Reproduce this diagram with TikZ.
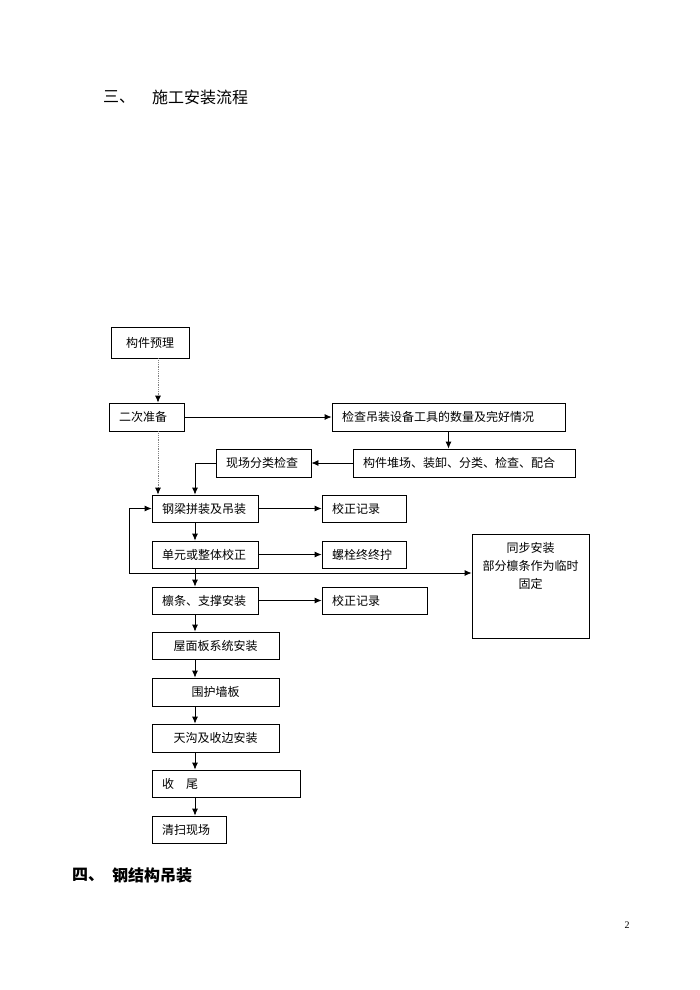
\documentclass[tikz,border=0pt]{standalone}
\usepackage{fontspec}
\setmainfont{Liberation Serif}
\newfontfamily\cjk{Noto Sans CJK SC}
\usepackage{tikz}
\usetikzlibrary{calc,arrows.meta,positioning}

\begin{document}
\begin{tikzpicture}[x=1pt,y=-1pt,>={Latex[length=7pt,width=6pt]}]

\tikzset{flownode/.style={draw,line width=0.8pt,font=\cjk\fontsize{12}{14}\selectfont,inner sep=0pt,minimum height=28pt,align=center},
leftnode/.style={flownode,text width=#1,align=left,inner xsep=10pt},
flow/.style={->,line width=0.8pt},
dotflow/.style={-{Latex[length=7pt,width=6pt,black]},densely dotted,line width=0.8pt,color=gray},
heading/.style={anchor=west,inner sep=0pt,font=\cjk\fontsize{16}{18}\selectfont}}

\useasboundingbox (0,0) rectangle (700,990);

% Headings
\node[heading] (h3num) at (103,97) {三、};
\node[heading] (h3) at (152,97) {施工安装流程};
\node[heading,font=\cjk\bfseries\fontsize{16}{18}\selectfont] (h4num) at (72,875) {四、};
\node[heading,font=\cjk\bfseries\fontsize{16}{18}\selectfont] (h4) at (112,875) {钢结构吊装};
\node[font=\fontsize{10}{12}\selectfont] (page) at (627,925) {2};

% preparation nodes
\node[flownode,minimum width=78pt,minimum height=31pt] (pre) at (150,342.5) {构件预理};
\node[leftnode=55pt] (prep) at (146.5,417) {二次准备};
\node[leftnode=213pt] (check) at (448.5,417) {检查吊装设备工具的数量及完好情况};
\node[leftnode=75pt] (sort) at (263.5,463) {现场分类检查};
\node[leftnode=202pt] (stack) at (464,463) {构件堆场、装卸、分类、检查、配合};

% erection nodes
\node[leftnode=86pt,minimum height=27pt] (beam) at (205,508.5) {钢梁拼装及吊装};
\node[leftnode=64pt,minimum height=27pt] (rec1) at (364,508.5) {校正记录};
\node[leftnode=86pt,minimum height=27pt] (unit) at (205,554.5) {单元或整体校正};
\node[leftnode=64pt,minimum height=27pt] (bolt) at (364,554.5) {螺栓终终拧};
\node[leftnode=86pt,minimum height=27pt] (purlin) at (205,600.5) {檩条、支撑安装};
\node[leftnode=85pt,minimum height=27pt] (rec2) at (374.5,600.5) {校正记录};
\node[flownode,minimum width=117pt,minimum height=104pt] (sync) at (530.5,586) {};
\node[font=\cjk\fontsize{12}{18}\selectfont,align=center,anchor=north,inner sep=0pt] (syncText) at ($(sync.north)+(0,9)$) {同步安装\\部分檩条作为临时\\固定};

% finishing nodes
\node[flownode,minimum width=127pt,minimum height=27pt] (roof) at (215.5,645.5) {屋面板系统安装};
\node[flownode,minimum width=127pt] (wall) at (215.5,692) {围护墙板};
\node[flownode,minimum width=127pt] (gutter) at (215.5,738) {天沟及收边安装};
\node[leftnode=128pt,minimum height=27pt] (finish) at (226,783.5) {收\quad 尾};
\node[leftnode=54pt,minimum height=27pt] (clean) at (189,829.5) {清扫现场};

% Edges
\coordinate (trunk) at (195,0);
\coordinate (dotx) at (158,0);
\coordinate (loop) at (129,573);
\draw[dotflow] (pre.south -| dotx) -- (prep.north -| dotx);
\draw[dotflow] (prep.south -| dotx) -- (beam.north -| dotx);
\draw[flow] (prep) -- (check);
\draw[flow] (check.south) -- (stack.north -| check.south);
\draw[flow] (stack) -- (sort);
\draw[flow] (sort.west) -| (beam.north -| trunk);
\draw[flow] (beam) -- (rec1);
\draw[flow] (unit) -- (bolt);
\draw[flow] (purlin) -- (rec2);
\foreach \a/\b in {beam/unit,unit/purlin,purlin/roof,roof/wall,wall/gutter,gutter/finish,finish/clean}
  \draw[flow] (\a.south -| trunk) -- (\b.north -| trunk);
\draw[flow] (loop) -- (loop -| sync.west);
\draw[flow] (loop) |- (beam.west);

\end{tikzpicture}
\end{document}
